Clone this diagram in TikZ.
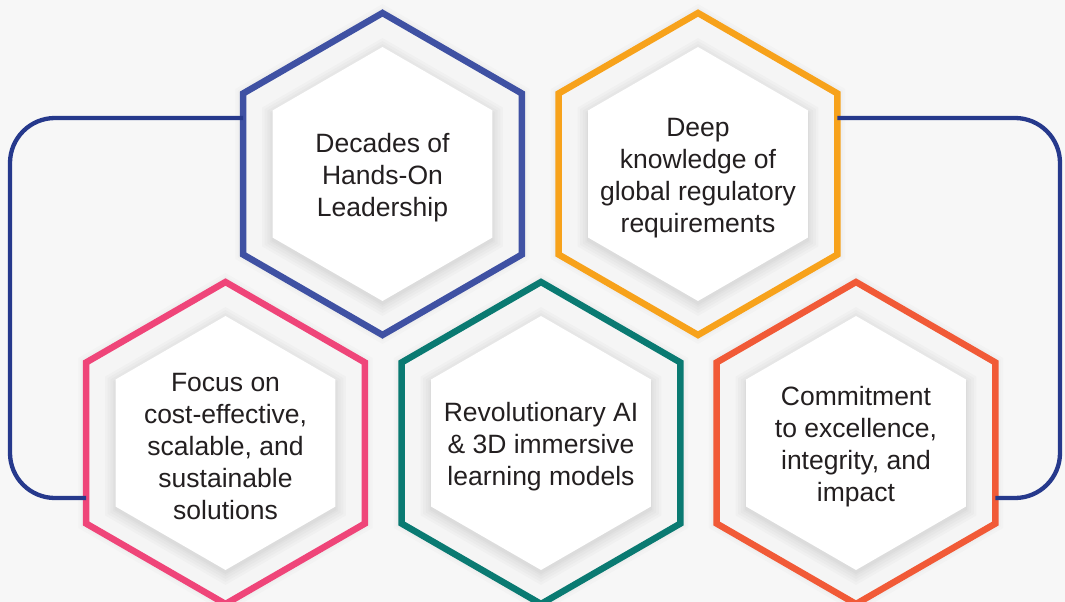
\documentclass[tikz,border=0pt]{standalone}
\usepackage{fontspec}
\setmainfont{Liberation Sans}
\usetikzlibrary{shapes.geometric}
\definecolor{bg}{HTML}{F7F7F7}
\definecolor{ringfill}{HTML}{F5F5F5}
\definecolor{connblue}{HTML}{26398C}
\definecolor{hexblue}{HTML}{3F51A3}
\definecolor{hexorange}{HTML}{F7A21B}
\definecolor{hexpink}{HTML}{EF4579}
\definecolor{hexteal}{HTML}{0A7A72}
\definecolor{hexred}{HTML}{F15A37}
\definecolor{ink}{HTML}{231F20}
\tikzset{
  hexframe/.style={regular polygon, regular polygon sides=6, regular polygon rotate=30,
    minimum size=322pt, inner sep=0pt, outer sep=0pt, line width=6.5pt, fill=ringfill},
  conn/.style={draw=connblue, line width=4.3pt, rounded corners=45pt},
  hexlabel/.style={text=ink, align=center, inner sep=0pt, font=\fontsize{26.5}{32}\selectfont},
}
\newcommand\hexp[1]{(90:#1) -- (150:#1) -- (210:#1) -- (270:#1) -- (330:#1) -- (30:#1) -- cycle}
\newcommand\hexitem[5]{%
  \begin{scope}[shift={(#2,#3)}]
    \foreach \d in {9,6,3} \fill[black, opacity=0.016] \hexp{161+\d};
  \end{scope}
  \node[hexframe, draw=#4] (#1) at (#2,#3) {};
  \begin{scope}[shift={(#2,#3+3)}]
    \foreach \d in {12,9,6,3,1} \fill[black, opacity=0.019] \hexp{127+\d};
  \end{scope}
  \begin{scope}[shift={(#2,#3)}]
    \fill[white] \hexp{127};
  \end{scope}
  \node[hexlabel] (t#1) at (#2,#3+4) {#5};
}
\begin{document}
\begin{tikzpicture}[x=1pt,y=-1pt]
\useasboundingbox (0,0) rectangle (1065,602);
\clip (0,0) rectangle (1065,602);
\fill[bg] (0,0) rectangle (1065,602);
\coordinate (ytop) at (0,118);
\coordinate (ybot) at (0,498);
\coordinate (xl) at (10,300);
\coordinate (xr) at (1060,300);
% hexagons
\hexitem{hA}{382.5}{174}{hexblue}{Decades of\\Hands-On\\Leadership}
\hexitem{hB}{698}{174}{hexorange}{Deep\\knowledge of\\global regulatory\\requirements}
\hexitem{hC}{225.5}{443}{hexpink}{Focus on\\cost-effective,\\scalable, and\\sustainable\\solutions}
\hexitem{hD}{541}{443}{hexteal}{Revolutionary AI\\\& 3D immersive\\learning models}
\hexitem{hE}{856}{443}{hexred}{Commitment\\to excellence,\\integrity, and\\impact}
% connectors
\draw[conn] (hA.west |- ytop) -| (xl) |- (hC.west |- ybot);
\draw[conn] (hB.east |- ytop) -| (xr) |- (hE.east |- ybot);
\end{tikzpicture}
\end{document}
